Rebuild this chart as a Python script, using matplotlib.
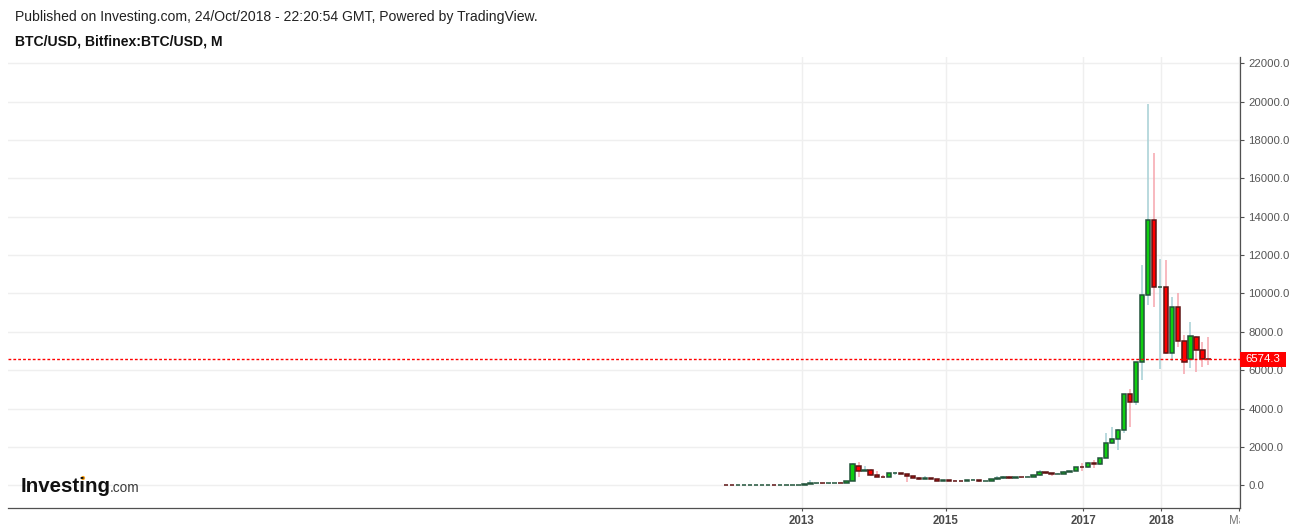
import matplotlib
matplotlib.use('Agg')
import matplotlib.pyplot as plt
import numpy as np
from matplotlib.patches import Rectangle, Circle
from matplotlib.transforms import blended_transform_factory, Bbox, TransformedBbox

plt.rcParams['font.family'] = ['Liberation Sans', 'DejaVu Sans']

# ---------------- data (monthly BTC/USD, Bitfinex) ----------------
months = [
    'Feb 2012', 'Mar 2012', 'Apr 2012', 'May 2012', 'Jun 2012', 'Jul 2012', 'Aug 2012',
    'Sep 2012', 'Oct 2012', 'Nov 2012', 'Dec 2012',
    'Jan 2013', 'Feb 2013', 'Mar 2013', 'Apr 2013', 'May 2013', 'Jun 2013', 'Jul 2013',
    'Aug 2013', 'Sep 2013', 'Oct 2013', 'Nov 2013', 'Dec 2013',
    'Jan 2014', 'Feb 2014', 'Mar 2014', 'Apr 2014', 'May 2014', 'Jun 2014', 'Jul 2014',
    'Aug 2014', 'Sep 2014', 'Oct 2014', 'Nov 2014', 'Dec 2014',
    'Jan 2015', 'Feb 2015', 'Mar 2015', 'Apr 2015', 'May 2015', 'Jun 2015', 'Jul 2015',
    'Aug 2015', 'Sep 2015', 'Oct 2015', 'Nov 2015', 'Dec 2015',
    'Jan 2016', 'Feb 2016', 'Mar 2016', 'Apr 2016', 'May 2016', 'Jun 2016', 'Jul 2016',
    'Aug 2016', 'Sep 2016', 'Oct 2016', 'Nov 2016', 'Dec 2016',
    'Jan 2017', 'Feb 2017', 'Mar 2017', 'Apr 2017', 'May 2017', 'Jun 2017', 'Jul 2017',
    'Aug 2017', 'Sep 2017', 'Oct 2017', 'Nov 2017', 'Dec 2017',
    'Jan 2018', 'Feb 2018', 'Mar 2018', 'Apr 2018', 'May 2018', 'Jun 2018', 'Jul 2018',
    'Aug 2018', 'Sep 2018', 'Oct 2018',
]
opens = [
    5.4, 4.9, 4.8, 5.0, 5.1, 6.7, 9.3, 10.2, 12.4, 11.2, 12.6,
    13.5, 20.4, 33.4, 93, 125, 129, 97, 106, 141, 133, 204, 1020,
    740, 815, 560, 455, 445, 625, 640, 585, 480, 385, 338, 378,
    320, 220, 255, 245, 236, 230, 263, 284, 230, 236, 314, 377,
    430, 368, 437, 416, 448, 531, 670, 624, 575, 608, 700, 742,
    965, 960, 1185, 1085, 1430, 2180, 2440, 2870, 4740, 4350, 6440, 9930,
    13830, 10320, 10340, 6920, 9280, 7500, 6610, 7750, 7030, 6610,
]
highs = [
    6.1, 5.4, 5.4, 5.2, 6.8, 9.5, 16, 12.5, 12.5, 12.7, 13.8,
    20.8, 33.8, 95, 266, 140, 130, 110, 142, 150, 215, 1165, 1190,
    1000, 850, 720, 540, 630, 680, 660, 600, 490, 415, 460, 385,
    330, 265, 300, 260, 245, 268, 315, 285, 245, 333, 500, 465,
    460, 445, 440, 470, 550, 780, 700, 630, 630, 720, 750, 975,
    1150, 1220, 1340, 1440, 2735, 3015, 2920, 4780, 5020, 6450, 11500, 19900,
    17300, 11800, 11750, 9800, 10040, 7840, 8510, 7770, 7470, 7730,
]
lows = [
    4.2, 4.7, 4.8, 4.9, 5.1, 6.5, 7, 9.9, 9.7, 10.5, 12.4,
    13.2, 19.5, 33, 50, 85, 88, 65, 101, 117, 110, 204, 430,
    740, 480, 440, 380, 420, 555, 565, 150, 360, 275, 320, 305,
    200, 212, 240, 215, 225, 220, 253, 198, 225, 235, 300, 350,
    350, 365, 400, 412, 435, 510, 605, 480, 570, 600, 680, 740,
    760, 920, 900, 1070, 1420, 2150, 1850, 2740, 3050, 4180, 5490, 9410,
    9300, 6050, 6850, 6500, 7220, 5800, 6100, 5920, 6170, 6290,
]
closes = [
    4.9, 4.8, 5.0, 5.1, 6.7, 9.3, 10.2, 12.4, 11.2, 12.6, 13.5,
    20.4, 33.4, 93, 125, 129, 97, 106, 141, 133, 204, 1130, 740,
    815, 560, 455, 445, 625, 640, 585, 480, 385, 338, 378, 320,
    220, 255, 245, 236, 230, 263, 284, 230, 236, 314, 377, 430,
    368, 437, 416, 448, 531, 670, 624, 575, 608, 700, 742, 965,
    960, 1185, 1085, 1430, 2180, 2440, 2870, 4740, 4350, 6440, 9930, 13830,
    10320, 10340, 6920, 9280, 7500, 6410, 7760, 7030, 6610, 6574.3,
]
y_ticks = list(range(0, 22001, 2000))
x_tick_labels = ['2013', '2015', '2017', '2018']
future_label = 'Mar'

# ---------------- styling / layout ----------------
W, H = 1299, 532
UP_FILL, UP_EDGE, UP_WICK = '#0fcf0f', '#22543a', '#a6cfd5'
DN_FILL, DN_EDGE, DN_WICK = '#ff0000', '#5e1414', '#f6a5ae'
GRID = '#efefef'
AXIS = '#505050'

fig = plt.figure(figsize=(W / 100, H / 100), dpi=100)
ax = fig.add_axes([8 / W, 24 / H, 1232 / W, 451 / H])

o = np.array(opens, float)
h = np.array(highs, float)
l = np.array(lows, float)
c = np.array(closes, float)
idx = np.arange(len(months))
up = c >= o

wick_cols = [UP_WICK if u else DN_WICK for u in up]
fill_cols = [UP_FILL if u else DN_FILL for u in up]
edge_cols = [UP_EDGE if u else DN_EDGE for u in up]

ax.vlines(idx, l, h, colors=wick_cols, linewidth=1.1, zorder=2)
ax.bar(idx, np.abs(c - o), bottom=np.minimum(o, c), width=0.74,
       color=fill_cols, edgecolor=edge_cols, linewidth=1.1, zorder=3)

# axes limits (bar spacing ~6 px)
ax.set_xlim(-119.07, 85.24)
ax.set_ylim(-1183, 22328)

# grid + ticks
ax.set_axisbelow(True)
ax.set_yticks(y_ticks)
ax.set_yticklabels([f'{v:.1f}' for v in y_ticks])
tick_pos = [12.55, 36.43, 59.25, 72.19, 85.1]
ax.set_xticks(tick_pos)
ax.set_xticklabels(x_tick_labels + [''])
for t in ax.get_xticklabels():
    t.set_fontweight('bold')
ax.grid(True, color=GRID, linewidth=1.0)

ax.yaxis.tick_right()
ax.tick_params(axis='y', length=3, width=0.8, color=AXIS, labelsize=8.2,
               labelcolor='#555555', pad=3)
ax.tick_params(axis='x', length=2.5, width=0.8, color=AXIS, labelsize=8.3,
               labelcolor='#4a4a4a', pad=2.5)
for s in ['top', 'left']:
    ax.spines[s].set_visible(False)
for s in ['bottom', 'right']:
    ax.spines[s].set_color(AXIS)
    ax.spines[s].set_linewidth(0.9)

# clipped future label at the right edge
clipbox = TransformedBbox(Bbox.from_extents(0, 0, 1239.5 / W, 1), fig.transFigure)
ft = ax.annotate(future_label, xy=(tick_pos[-1], 0),
                 xycoords=blended_transform_factory(ax.transData, ax.transAxes),
                 xytext=(0, -5.0), textcoords='offset points',
                 ha='center', va='top', fontsize=8.3, color='#777777',
                 annotation_clip=False)
ft.set_clip_box(clipbox)
ft.set_clip_on(True)

# last price line and label
last = c[-1]
ax.axhline(last, color='#ff0000', linewidth=1.0, linestyle=(0, (2, 1.5)), zorder=4)
bt = blended_transform_factory(ax.transAxes, ax.transData)
ax.add_patch(Rectangle((1.0, last - 391), 46 / 1232, 782, transform=bt,
                       facecolor='#ff0000', edgecolor='none', clip_on=False, zorder=6))
ax.text(1.0 + 23 / 1232, last, f'{last:.1f}', transform=bt, ha='center', va='center',
        color='white', fontsize=8.2, zorder=7, clip_on=False)

# header
fig.text(15 / W, 1 - 17.5 / H, 'Published on Investing.com, 24/Oct/2018 - 22:20:54 GMT, Powered by TradingView.',
         ha='left', va='center', fontsize=10.1, color='#222222')
fig.text(15 / W, 1 - 41 / H, 'BTC/USD, Bitfinex:BTC/USD, M',
         ha='left', va='center', fontsize=10.1, fontweight='bold', color='#111111')

# logo
fig.text(20.5 / W, (H - 491.7) / H, 'Investing', ha='left', va='baseline',
         fontsize=14.8, fontweight='bold', color='#111111')
fig.text(110 / W, (H - 491.7) / H, '.com', ha='left', va='baseline',
         fontsize=9.8, color='#3a3a3a')
fig.add_artist(Circle((83.0 / 100, (H - 478.0) / 100), 0.021,
                      transform=fig.dpi_scale_trans, facecolor='#f7a21b', edgecolor='none'))

fig.savefig('out.png', dpi=100)
